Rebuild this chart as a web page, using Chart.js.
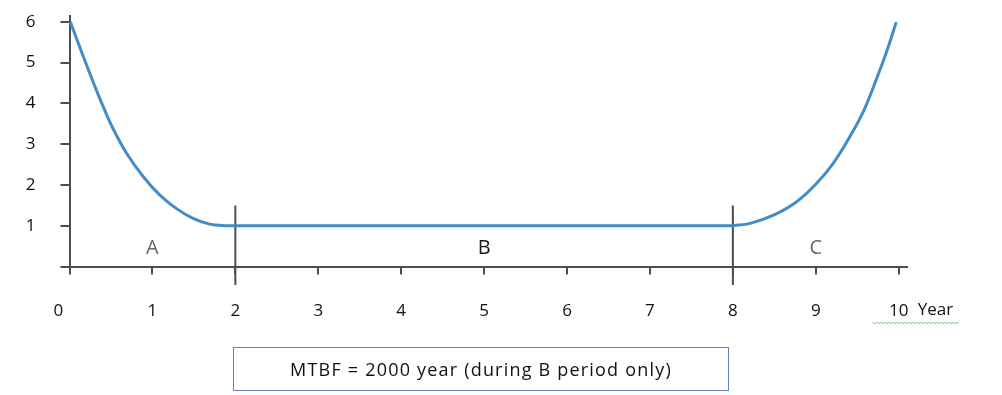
<!DOCTYPE html>
<html>
<head>
<meta charset="utf-8">
<script src="https://cdn.jsdelivr.net/npm/chart.js@4.4.1/dist/chart.umd.min.js"></script>
<style>
  html, body { margin: 0; padding: 0; background: #ffffff; }
  #wrap { position: relative; width: 1002px; height: 395px; }
  #note {
    position: absolute;
    left: 233px;
    top: 347px;
    width: 494px;
    height: 42px;
    border: 1.5px solid #5a86bd;
    font-family: "Open Sans", sans-serif;
    font-size: 18px;
    letter-spacing: 1.2px;
    color: #111;
    display: flex;
    align-items: center;
    justify-content: center;
  }
</style>
</head>
<body>
<div id="wrap">
  <canvas id="bathtub"></canvas>
  <div id="note">MTBF = 2000 year (during B period only)</div>
</div>
<script>
// curve: early failures (A), flat period (B), wear-out (C)
const earlyYears = [0.01, 0.17, 0.29, 0.41, 0.53, 0.69, 0.89, 1.09, 1.29, 1.49, 1.69, 1.9, 2];
const earlyRate = [6.0, 5.13, 4.5, 3.9, 3.36, 2.77, 2.2, 1.75, 1.42, 1.18, 1.04, 1.0, 1];
const usefulYears = [2, 8];
const usefulRate = [1, 1];
const wearYears = [8, 8.21, 8.49, 8.77, 9.01, 9.21, 9.41, 9.58, 9.74, 9.86, 9.97];
const wearRate = [1, 1.06, 1.26, 1.59, 2.04, 2.53, 3.18, 3.83, 4.64, 5.3, 5.99];
const xTicks = [0, 1, 2, 3, 4, 5, 6, 7, 8, 9, 10];
const yTicks = [0, 1, 2, 3, 4, 5, 6];
const dividerYears = [2, 8];
const dividerSpan = [1.5, -0.45];
const periodLabels = ["A", "B", "C"];
const periodCenters = [1, 5, 9];
const xUnit = "Year";

const AXIS_COLOR = "#4d4d4d";
const LINE_COLOR = "#428dc8";
const FONT = "'Open Sans', sans-serif";

function toPoints(xs, ys) {
  return xs.map((x, i) => ({ x, y: ys[i] }));
}

function curveSet(xs, ys) {
  return {
    data: toPoints(xs, ys),
    borderColor: LINE_COLOR,
    borderWidth: 3,
    pointRadius: 0,
    tension: 0.4,
    clip: false,
    order: 1
  };
}

const dividerSets = dividerYears.map((x) => ({
  data: dividerSpan.map((y) => ({ x, y })),
  borderColor: AXIS_COLOR,
  borderWidth: 2,
  pointRadius: 0,
  tension: 0,
  clip: false,
  order: 2
}));

function noScalePadding(scale) {
  scale.paddingTop = 0;
  scale.paddingBottom = 0;
  scale.paddingLeft = 0;
  scale.paddingRight = 0;
}

const extrasPlugin = {
  id: "extras",
  afterDraw(chart) {
    const { ctx, scales } = chart;
    const xs = scales.x;
    const ys = scales.y;
    ctx.save();
    ctx.font = "20px " + FONT;
    ctx.textAlign = "center";
    ctx.textBaseline = "middle";
    periodLabels.forEach((label, i) => {
      ctx.fillStyle = label === "B" ? "#1a1a1a" : "#666666";
      ctx.fillText(label, xs.getPixelForValue(periodCenters[i]), ys.getPixelForValue(0.5) + 2);
    });

    // unit after the last tick label
    ctx.font = "17px " + FONT;
    ctx.fillStyle = "#111";
    ctx.textAlign = "left";
    const x10 = xs.getPixelForValue(10);
    ctx.fillText(xUnit, x10 + 19, 310);

    // spell-check squiggle under "10 Year"
    ctx.strokeStyle = "#7cc47c";
    ctx.lineWidth = 1;
    ctx.beginPath();
    let up = true;
    for (let px = x10 - 26; px <= x10 + 60; px += 2) {
      const py = up ? 322 : 324;
      if (px === x10 - 26) ctx.moveTo(px, py); else ctx.lineTo(px, py);
      up = !up;
    }
    ctx.stroke();
    ctx.restore();
  }
};

new Chart(document.getElementById("bathtub"), {
  type: "line",
  data: {
    datasets: [
      curveSet(earlyYears, earlyRate),
      { ...curveSet(usefulYears, usefulRate), tension: 0 },
      curveSet(wearYears, wearRate),
      ...dividerSets
    ]
  },
  options: {
    responsive: true,
    maintainAspectRatio: false,
    animation: false,
    layout: { padding: { left: 0, right: 95, top: 16.4, bottom: 0 } },
    plugins: {
      legend: { display: false },
      tooltip: { enabled: false }
    },
    scales: {
      x: {
        type: "linear",
        min: 0,
        max: 10.1,
        afterBuildTicks: (scale) => { scale.ticks = xTicks.map((value) => ({ value })); },
        afterFit: (scale) => { scale.height = 128.4; noScalePadding(scale); },
        ticks: {
          color: "#111",
          font: { family: FONT, size: 17 },
          padding: 26,
          maxRotation: 0,
          callback: (v) => (v === 0 ? "0     " : String(v))
        },
        grid: {
          drawOnChartArea: false,
          drawTicks: true,
          tickLength: 8,
          color: AXIS_COLOR,
          lineWidth: 2
        },
        border: { display: true, color: AXIS_COLOR, width: 2 }
      },
      y: {
        type: "linear",
        min: 0,
        max: 6.13,
        afterBuildTicks: (scale) => { scale.ticks = yTicks.map((value) => ({ value })); },
        afterFit: (scale) => { scale.width = 69.5; noScalePadding(scale); },
        ticks: {
          color: "#111",
          font: { family: FONT, size: 17 },
          padding: 25,
          callback: (v) => (v === 0 ? "" : String(v))
        },
        grid: {
          drawOnChartArea: false,
          drawTicks: true,
          tickLength: 9,
          color: AXIS_COLOR,
          lineWidth: 2
        },
        border: { display: true, color: AXIS_COLOR, width: 2 }
      }
    }
  },
  plugins: [extrasPlugin]
});
</script>
</body>
</html>
